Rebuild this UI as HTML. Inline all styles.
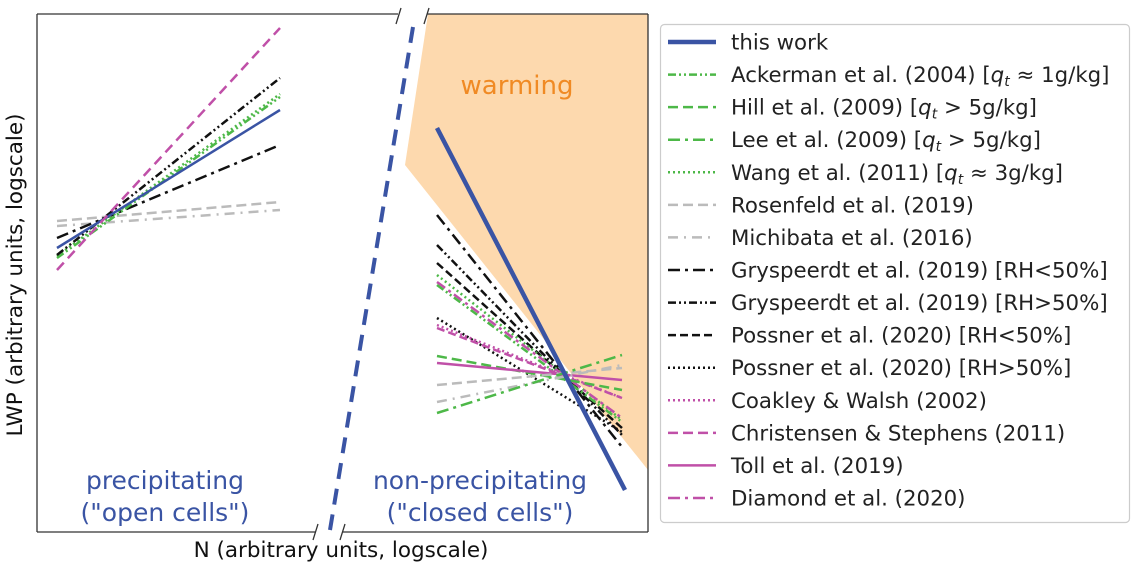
<!DOCTYPE html>
<html><head><meta charset="utf-8"><style>
body{margin:0;background:#fff;}
svg text{font-family:"DejaVu Sans","Liberation Sans",sans-serif;}
</style></head><body>
<svg width="1140" height="570" viewBox="0 0 1140 570" xmlns="http://www.w3.org/2000/svg">
<rect width="1140" height="570" fill="#fff"/>
<polygon points="428,14 648,14 648,470 405,165" fill="#fdd9ae"/>
<g stroke="#333" stroke-width="1.3" fill="none">
<line x1="37" y1="14" x2="398" y2="14"/>
<line x1="427" y1="14" x2="648" y2="14"/>
<line x1="37" y1="14" x2="37" y2="532"/>
<line x1="648" y1="14" x2="648" y2="532"/>
<line x1="37" y1="532" x2="316" y2="532"/>
<line x1="343" y1="532" x2="648" y2="532"/>
<line x1="396" y1="24" x2="401" y2="8"/>
<line x1="424" y1="24" x2="429" y2="8"/>
<line x1="313" y1="540" x2="318" y2="524"/>
<line x1="340" y1="540" x2="345" y2="524"/>
</g>
<line x1="413" y1="27" x2="330" y2="530" stroke="#3a54a4" stroke-width="4" stroke-dasharray="16,10"/>
<g fill="none" stroke-width="2.5">
<line x1="57" y1="221" x2="280" y2="202" stroke="#bbb" stroke-dasharray="10,5"/>
<line x1="57" y1="226" x2="280" y2="210" stroke="#bbb" stroke-dasharray="10,6,2,6"/>
<line x1="57" y1="238" x2="280" y2="145" stroke="#111" stroke-dasharray="12,5,3,5"/>
<line x1="57" y1="256" x2="280" y2="94" stroke="#4db848" stroke-dasharray="2,3"/>
<line x1="57" y1="258" x2="280" y2="97" stroke="#4db848" stroke-dasharray="8,3,2,3,2,3"/>
<line x1="57" y1="255" x2="280" y2="78" stroke="#111" stroke-dasharray="8,3,2,3,2,3"/>
<line x1="57" y1="248" x2="280" y2="110" stroke="#3a54a4"/>
<line x1="57" y1="270" x2="280" y2="28" stroke="#c050a8" stroke-dasharray="10,6"/>
</g>
<g fill="none" stroke-width="2.5">
<line x1="437" y1="215" x2="622" y2="447" stroke="#111" stroke-dasharray="12,5,3,5"/>
<line x1="437" y1="245" x2="622" y2="435" stroke="#111" stroke-dasharray="8,3,2,3,2,3"/>
<line x1="437" y1="263" x2="622" y2="428" stroke="#111" stroke-dasharray="8,4"/>
<line x1="437" y1="275" x2="622" y2="420" stroke="#4db848" stroke-dasharray="2,3"/>
<line x1="437" y1="282" x2="622" y2="418" stroke="#c050a8" stroke-dasharray="10,4,3,4"/>
<line x1="437" y1="285" x2="622" y2="422" stroke="#4db848" stroke-dasharray="8,3,2,3,2,3"/>
<line x1="437" y1="318" x2="622" y2="432" stroke="#111" stroke-dasharray="2,3"/>
<line x1="437" y1="325" x2="622" y2="398" stroke="#c050a8" stroke-dasharray="2,3"/>
<line x1="437" y1="328" x2="622" y2="398" stroke="#c050a8" stroke-dasharray="8,4"/>
<line x1="437" y1="356" x2="622" y2="390" stroke="#4db848" stroke-dasharray="10,5"/>
<line x1="437" y1="363" x2="622" y2="380" stroke="#c050a8"/>
<line x1="437" y1="385" x2="622" y2="368" stroke="#bbb" stroke-dasharray="10,5"/>
<line x1="437" y1="402" x2="622" y2="365" stroke="#bbb" stroke-dasharray="10,6,2,6"/>
<line x1="437" y1="413" x2="622" y2="355" stroke="#4db848" stroke-dasharray="12,5,3,5"/>
<line x1="437" y1="128" x2="625" y2="490" stroke="#3a54a4" stroke-width="4.5"/>
</g>
<text x="517" y="94" font-size="26" fill="#f08a24" text-anchor="middle">warming</text>
<g font-size="25" fill="#3a54a4" text-anchor="middle">
<text x="165" y="489">precipitating</text>
<text x="165" y="521">("open cells")</text>
<text x="480" y="489">non-precipitating</text>
<text x="480" y="521">("closed cells")</text>
</g>
<text x="341" y="557" font-size="21.5" fill="#111" text-anchor="middle">N (arbitrary units, logscale)</text>
<text transform="translate(22,275) rotate(-90)" font-size="21.5" fill="#111" text-anchor="middle">LWP (arbitrary units, logscale)</text>
<rect x="660.5" y="24.5" width="469" height="498" rx="4" fill="#fff" stroke="#ccc" stroke-width="1.2"/>
<g fill="none" stroke-width="2.5">
<line x1="668" y1="42" x2="716" y2="42" stroke="#3a54a4" stroke-width="4.5"/>
<line x1="668" y1="74.6" x2="716" y2="74.6" stroke="#4db848" stroke-dasharray="8,3,2,3,2,3"/>
<line x1="668" y1="107.1" x2="716" y2="107.1" stroke="#4db848" stroke-dasharray="10,5"/>
<line x1="668" y1="139.7" x2="716" y2="139.7" stroke="#4db848" stroke-dasharray="12,5,3,5"/>
<line x1="668" y1="172.3" x2="716" y2="172.3" stroke="#4db848" stroke-dasharray="2,3"/>
<line x1="668" y1="204.9" x2="716" y2="204.9" stroke="#bbb" stroke-dasharray="10,5"/>
<line x1="668" y1="237.4" x2="716" y2="237.4" stroke="#bbb" stroke-dasharray="10,6,2,6"/>
<line x1="668" y1="270" x2="716" y2="270" stroke="#111" stroke-dasharray="12,5,3,5"/>
<line x1="668" y1="302.6" x2="716" y2="302.6" stroke="#111" stroke-dasharray="8,3,2,3,2,3"/>
<line x1="668" y1="335.1" x2="716" y2="335.1" stroke="#111" stroke-dasharray="8,4"/>
<line x1="668" y1="367.7" x2="716" y2="367.7" stroke="#111" stroke-dasharray="2,3"/>
<line x1="668" y1="400.3" x2="716" y2="400.3" stroke="#c050a8" stroke-dasharray="2,3"/>
<line x1="668" y1="432.9" x2="716" y2="432.9" stroke="#c050a8" stroke-dasharray="10,5"/>
<line x1="668" y1="465.4" x2="716" y2="465.4" stroke="#c050a8"/>
<line x1="668" y1="498" x2="716" y2="498" stroke="#c050a8" stroke-dasharray="12,5,3,5"/>
</g>
<g font-size="21.3" fill="#222">
<text x="731" y="49.5">this work</text>
<text x="731" y="82">Ackerman et al. (2004) [<tspan font-style="italic">q<tspan font-size="14" dy="4">t</tspan></tspan><tspan dy="-4"> ≈ 1g/kg]</tspan></text>
<text x="731" y="114.6">Hill et al. (2009) [<tspan font-style="italic">q<tspan font-size="14" dy="4">t</tspan></tspan><tspan dy="-4"> &gt; 5g/kg]</tspan></text>
<text x="731" y="147.2">Lee et al. (2009) [<tspan font-style="italic">q<tspan font-size="14" dy="4">t</tspan></tspan><tspan dy="-4"> &gt; 5g/kg]</tspan></text>
<text x="731" y="179.8">Wang et al. (2011) [<tspan font-style="italic">q<tspan font-size="14" dy="4">t</tspan></tspan><tspan dy="-4"> ≈ 3g/kg]</tspan></text>
<text x="731" y="212.4">Rosenfeld et al. (2019)</text>
<text x="731" y="244.9">Michibata et al. (2016)</text>
<text x="731" y="277.5">Gryspeerdt et al. (2019) [RH&lt;50%]</text>
<text x="731" y="310.1">Gryspeerdt et al. (2019) [RH&gt;50%]</text>
<text x="731" y="342.6">Possner et al. (2020) [RH&lt;50%]</text>
<text x="731" y="375.2">Possner et al. (2020) [RH&gt;50%]</text>
<text x="731" y="407.8">Coakley &amp; Walsh (2002)</text>
<text x="731" y="440.4">Christensen &amp; Stephens (2011)</text>
<text x="731" y="472.9">Toll et al. (2019)</text>
<text x="731" y="505.5">Diamond et al. (2020)</text>
</g>
</svg>
</body></html>
